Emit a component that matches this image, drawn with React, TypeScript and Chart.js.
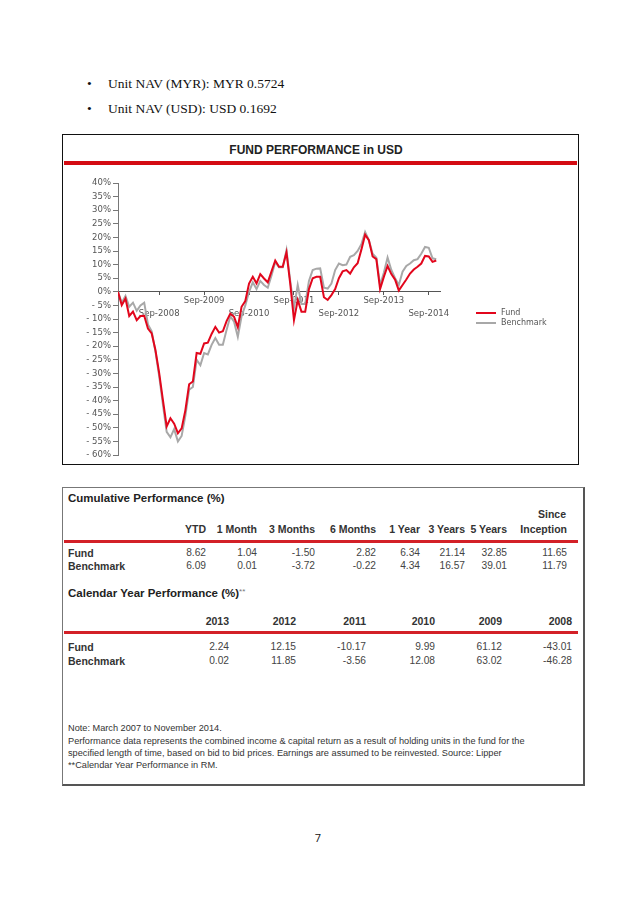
import React, { useEffect, useRef } from "react";
import { Chart, registerables } from "chart.js";

Chart.register(...registerables);

// Monthly points, Oct-2007 (index 0) to Nov-2014 (index 85)
const tickPositions = [11, 23, 35, 47, 59, 71, 83];
const tickLabels = ["Sep-2008", "Sep-2009", "Sep-2010", "Sep-2011", "Sep-2012", "Sep-2013", "Sep-2014"];

const fundValues = [
  0, -4.9, -2.5, -8.9, -7.3, -10.4, -8.9, -8.8, -13.5, -15.3,
  -21.4, -29.9, -39.8, -49.5, -46.5, -48.5, -52, -50.2, -43.5, -34,
  -33, -22.5, -22.8, -19, -18.7, -15.5, -12.9, -15, -14.5, -10.8,
  -8, -9.2, -13, -5.5, -3.4, 3, 5.5, 3.1, 6.5, 4.9,
  3.5, 7.5, 11.5, 9.2, 9.2, 14.5, 3, -10.4, -3, -7.3,
  -7.3, 1, 5, 5.5, 5.5, -2, -3, -1.2, 1, 5,
  7.5, 8, 6.7, 9, 10.5, 15.5, 21, 19, 13, 12,
  1, 5.5, 9.5, 6.5, 4.5, 0.5, 2.5, 4.5, 6.7, 8.2,
  9.2, 10.4, 13.2, 13, 11, 11.5,
];

const benchmarkValues = [
  0, -4, -1.5, -5.5, -4, -7, -5, -4, -12, -14.5,
  -22, -31, -41.5, -51.5, -53.5, -50.5, -55, -53, -45.5, -36,
  -35, -25, -27, -22.5, -23, -19.5, -17, -19.5, -19.5, -14,
  -9, -11, -16.5, -9, -5, 0, 3.5, 1, 4, 2.5,
  1.5, 6, 11, 9, 9, 15.3, 4, -6, 2.5, -4.5,
  -4.5, 4, 8, 8.5, 8.6, 1.5, 1.2, 3, 8, 10.4,
  9.8, 10, 12.9, 13.5, 15, 17.5, 22, 19, 14, 12.5,
  2.5, 7, 12.6, 8, 5, 2.5, 7.4, 9.5, 10.4, 11.6,
  12, 14, 16.5, 16.2, 12.3, 12,
];

const seriesNames = ["Fund", "Benchmark"];

const cumHeaders = ["YTD", "1 Month", "3 Months", "6 Months", "1 Year", "3 Years", "5 Years", "Inception"];
const cumFund = ["8.62", "1.04", "-1.50", "2.82", "6.34", "21.14", "32.85", "11.65"];
const cumBench = ["6.09", "0.01", "-3.72", "-0.22", "4.34", "16.57", "39.01", "11.79"];
const cumRight = [206, 257, 315, 376, 420, 465, 507, 567];

const calYears = ["2013", "2012", "2011", "2010", "2009", "2008"];
const calFund = ["2.24", "12.15", "-10.17", "9.99", "61.12", "-43.01"];
const calBench = ["0.02", "11.85", "-3.56", "12.08", "63.02", "-46.28"];
const calRight = [229, 296, 366, 435, 502, 572];

const noteLines = [
  "Note: March 2007 to November 2014.",
  "Performance data represents the combined income & capital return as a result of holding units in the fund for the",
  "specified length of time, based on bid to bid prices. Earnings are assumed to be reinvested. Source: Lipper",
  "**Calendar Year Performance in RM.",
];

const FUND_RED = "#e2061c";
const BENCH_GRAY = "#a8a8a8";

type TProps = { x: number; y: number; children: React.ReactNode; style?: React.CSSProperties; align?: "left" | "right" | "center" };
function T({ x, y, children, style, align = "left" }: TProps) {
  const transform = align === "right" ? "translateX(-100%)" : align === "center" ? "translateX(-50%)" : undefined;
  return (
    <div
      style={{
        position: "absolute",
        left: x,
        top: y - 8,
        height: 16,
        lineHeight: "16px",
        whiteSpace: "nowrap",
        transform,
        ...style,
      }}
    >
      {children}
    </div>
  );
}

function PerfChart() {
  const ref = useRef<HTMLCanvasElement | null>(null);
  useEffect(() => {
    if (!ref.current) return;
    const fundData = fundValues.map((v, i) => ({ x: i, y: v }));
    const benchData = benchmarkValues.map((v, i) => ({ x: i, y: v }));
    const chart = new Chart(ref.current, {
      type: "line",
      data: {
        datasets: [
          { label: seriesNames[0], data: fundData, borderColor: FUND_RED, borderWidth: 2, pointRadius: 0, tension: 0, fill: false },
          { label: seriesNames[1], data: benchData, borderColor: BENCH_GRAY, borderWidth: 2, pointRadius: 0, tension: 0, fill: false },
        ],
      },
      options: {
        animation: false,
        responsive: false,
        devicePixelRatio: 1,
        layout: { padding: { left: 0, right: 137, top: 18, bottom: 10 } },
        plugins: { legend: { display: false }, tooltip: { enabled: false }, title: { display: false } },
        scales: {
          x: {
            type: "linear",
            position: { y: 0 } as any,
            min: 0,
            max: 86,
            grid: { drawOnChartArea: false, drawTicks: true, tickLength: 3, tickColor: "#555" },
            border: { display: true, color: "#555", width: 1 },
            afterBuildTicks: (scale: any) => {
              scale.ticks = tickPositions.map((v) => ({ value: v }));
            },
            afterFit: (scale: any) => {
              scale.paddingLeft = 0;
              scale.paddingRight = 0;
            },
            ticks: {
              autoSkip: false,
              maxRotation: 0,
              minRotation: 0,
              padding: 0,
              color: "#555",
              font: { family: "DejaVu Sans", size: 8.5, lineHeight: 1.5 },
              callback: (value: any) => {
                const k = tickPositions.indexOf(Number(value));
                if (k < 0) return "";
                return k % 2 === 0 ? ["", tickLabels[k]] : tickLabels[k];
              },
            },
          },
          y: {
            type: "linear",
            min: -60,
            max: 40,
            grid: { drawOnChartArea: false, drawTicks: true, tickLength: 5, tickColor: "#777" },
            border: { display: true, color: "#777", width: 1 },
            afterFit: (scale: any) => {
              scale.width = 56;
              scale.paddingTop = 0;
              scale.paddingBottom = 0;
            },
            ticks: {
              stepSize: 5,
              padding: 2,
              color: "#555",
              font: { family: "DejaVu Sans", size: 8.5 },
              callback: (value: any) => {
                const v = Number(value);
                return v < 0 ? "- " + Math.abs(v) + "%" : v + "%";
              },
            },
          },
        },
      },
    });
    return () => chart.destroy();
  }, []);
  return <canvas ref={ref} width={515} height={300} style={{ position: "absolute", left: 62, top: 165, width: 515, height: 300 }} />;
}

export default function App() {
  const serif: React.CSSProperties = { fontFamily: "'Liberation Serif', 'Times New Roman', serif", fontSize: 13.5, color: "#111" };
  const sans = "'Liberation Sans', Arial, sans-serif";
  const title: React.CSSProperties = { fontFamily: sans, fontWeight: 700, fontSize: 11.5, color: "#222" };
  const head: React.CSSProperties = { fontFamily: sans, fontWeight: 700, fontSize: 10.5, color: "#333" };
  const val: React.CSSProperties = { fontFamily: sans, fontSize: 10.2, color: "#444" };
  const legendText: React.CSSProperties = { fontFamily: "'DejaVu Sans', sans-serif", fontSize: 8, color: "#555" };
  const note: React.CSSProperties = { fontFamily: sans, fontSize: 9.2, color: "#333" };

  return (
    <div style={{ position: "absolute", left: 0, top: 0, width: 638, height: 903, background: "#fff", overflow: "hidden" }}>
      {/* bullets */}
      <T x={87} y={84} style={serif}>•</T>
      <T x={108} y={84} style={serif}>Unit NAV (MYR): MYR 0.5724</T>
      <T x={87} y={109} style={serif}>•</T>
      <T x={108} y={109} style={serif}>Unit NAV (USD): USD 0.1692</T>

      {/* chart box */}
      <div style={{ position: "absolute", left: 62, top: 134, width: 517, height: 331, border: "1px solid #111", boxSizing: "border-box" }} />
      <T x={316} y={150} align="center" style={{ ...title, fontSize: 12 }}>FUND PERFORMANCE in USD</T>
      <div style={{ position: "absolute", left: 64, top: 161, width: 513, height: 4, background: "#d40b12" }} />
      <PerfChart />
      <div style={{ position: "absolute", left: 476, top: 312, width: 20, height: 2, background: FUND_RED }} />
      <T x={501} y={313} style={legendText}>{seriesNames[0]}</T>
      <div style={{ position: "absolute", left: 476, top: 322, width: 20, height: 2, background: BENCH_GRAY }} />
      <T x={501} y={323} style={legendText}>{seriesNames[1]}</T>

      {/* table box */}
      <div style={{ position: "absolute", left: 62, top: 487, width: 523, height: 299, borderTop: "1px solid #777", borderLeft: "1px solid #777", borderRight: "2px solid #555", borderBottom: "2px solid #555", boxSizing: "border-box" }} />
      <T x={68} y={498} style={title}>Cumulative Performance (%)</T>
      <T x={566} y={514} align="right" style={head}>Since</T>
      {cumHeaders.map((h, i) => (
        <T key={"ch" + i} x={cumRight[i]} y={528.5} align="right" style={head}>{h}</T>
      ))}
      <div style={{ position: "absolute", left: 64, top: 539.5, width: 514, height: 3, background: "#d32027" }} />
      <T x={68} y={553} style={head}>Fund</T>
      <T x={68} y={566} style={head}>Benchmark</T>
      {cumFund.map((v, i) => (
        <T key={"cf" + i} x={cumRight[i]} y={553} align="right" style={val}>{v}</T>
      ))}
      {cumBench.map((v, i) => (
        <T key={"cb" + i} x={cumRight[i]} y={566} align="right" style={val}>{v}</T>
      ))}

      <T x={68} y={592} style={title}>
        Calendar Year Performance (%)<span style={{ fontWeight: 400, fontSize: 8, color: "#777", verticalAlign: "3px" }}>**</span>
      </T>
      {calYears.map((h, i) => (
        <T key={"cy" + i} x={calRight[i]} y={621} align="right" style={head}>{h}</T>
      ))}
      <div style={{ position: "absolute", left: 64, top: 631, width: 514, height: 3, background: "#d32027" }} />
      <T x={68} y={647} style={head}>Fund</T>
      <T x={68} y={661} style={head}>Benchmark</T>
      {calFund.map((v, i) => (
        <T key={"kf" + i} x={calRight[i]} y={647} align="right" style={val}>{v}</T>
      ))}
      {calBench.map((v, i) => (
        <T key={"kb" + i} x={calRight[i]} y={661} align="right" style={val}>{v}</T>
      ))}

      {noteLines.map((l, i) => (
        <T key={"n" + i} x={68} y={[728, 741, 753, 765][i]} style={note}>{l}</T>
      ))}

      <T x={318} y={838} align="center" style={{ fontFamily: "'Open Sans', sans-serif", fontSize: 11, color: "#111" }}>7</T>
    </div>
  );
}
